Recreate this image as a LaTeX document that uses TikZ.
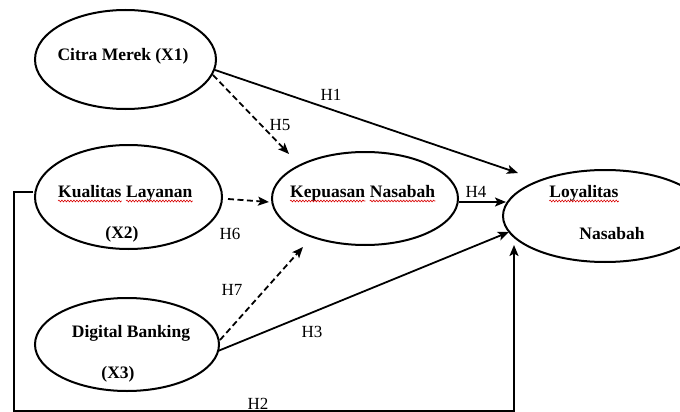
\documentclass[tikz,border=0pt]{standalone}
\usepackage{fontspec}
\setmainfont{Liberation Serif}
\usetikzlibrary{arrows.meta,shapes.geometric,decorations.pathmorphing}
\tikzset{
  latent/.style={draw, ellipse, line width=2pt, inner sep=0pt},
  lbl/.style={font=\fontsize{17.5}{20}\selectfont\bfseries, anchor=base, inner sep=0pt},
  hyp/.style={font=\fontsize{17}{20}\selectfont, anchor=base, inner sep=0pt},
  solidarrow/.style={line width=1.8pt, -{Stealth[length=11pt,width=9pt,inset=2.5pt]}},
  dasharrow/.style={solidarrow, dash pattern=on 6pt off 3.5pt},
  redwave/.style={red!85!black, line width=0.6pt, decorate, decoration={snake, amplitude=0.9pt, segment length=3pt}},
}
\begin{document}
\begin{tikzpicture}[x=1pt,y=-1pt]
\clip (0,0) rectangle (680,412);
\fill[white] (0,0) rectangle (680,412);
% ellipses
\node[latent, minimum width=181pt, minimum height=99pt] (citra) at (125.5,59.5) {};
\node[latent, minimum width=187pt, minimum height=104pt] (kual) at (128.5,197) {};
\node[latent, minimum width=186pt, minimum height=93pt] (kep) at (365,198.5) {};
\node[latent, minimum width=204pt, minimum height=92pt] (loyal) at (605,216) {};
\node[latent, minimum width=184pt, minimum height=93pt] (digital) at (127,344.5) {};
% texts
\node[lbl] (tcitra) at (123,60) {Citra Merek (X1)};
\node[lbl, anchor=base west] (tkual1) at (58,197) {Kualitas};
\node[lbl, anchor=base west] (tkual2) at ([xshift=4.4pt]tkual1.base east) {Layanan};
\node[lbl] (tx2) at (122,238) {(X2)};
\node[lbl, anchor=base west] (tkep1) at (290,197) {Kepuasan};
\node[lbl, anchor=base west] (tkep2) at ([xshift=4.4pt]tkep1.base east) {Nasabah};
\node[lbl] (tloy) at (584,197) {Loyalitas};
\node[lbl] (tnas) at (612,239) {Nasabah};
\node[lbl] (tdig) at (131,337) {Digital Banking};
\node[lbl] (tx3) at (118,378) {(X3)};
% spell-check underlines
\foreach \w in {tkual1,tkual2,tkep1,tkep2,tloy}
  \draw[redwave] ([yshift=-4pt]\w.base west) -- ([yshift=-4pt]\w.base east);
% hypothesis labels
\node[hyp] (h1) at (331,100) {H1};
\node[hyp] (h5) at (280,130) {H5};
\node[hyp] (h4) at (476,197) {H4};
\node[hyp] (h6) at (230,239) {H6};
\node[hyp] (h7) at (232,295) {H7};
\node[hyp] (h3) at (312,337) {H3};
\node[hyp] (h2) at (258,409) {H2};
% connectors
\draw[solidarrow] ([shift={(89.5,10.5)}]citra.center) -- ([shift={(-87,-43)}]loyal.center);
\draw[dasharrow] ([shift={(87.5,15.5)}]citra.center) -- ([shift={(-76,-44.5)}]kep.center);
\draw[dasharrow] ([shift={(99.5,2)}]kual.center) -- ([shift={(-96,3.5)}]kep.center);
\draw[solidarrow] ([shift={(94,3.5)}]kep.center) -- ([shift={(-99,-14)}]loyal.center);
\draw[solidarrow] ([shift={(91,6.5)}]digital.center) -- ([shift={(-96,16)}]loyal.center);
\draw[dasharrow] ([shift={(93,-4.5)}]digital.center) -- ([shift={(-62,48.5)}]kep.center);
\coordinate (h2corner) at (14,411);
\draw[solidarrow] ([shift={(-95.5,-5)}]kual.center) -| (h2corner) -| ([shift={(-91,29)}]loyal.center);
\end{tikzpicture}
\end{document}
